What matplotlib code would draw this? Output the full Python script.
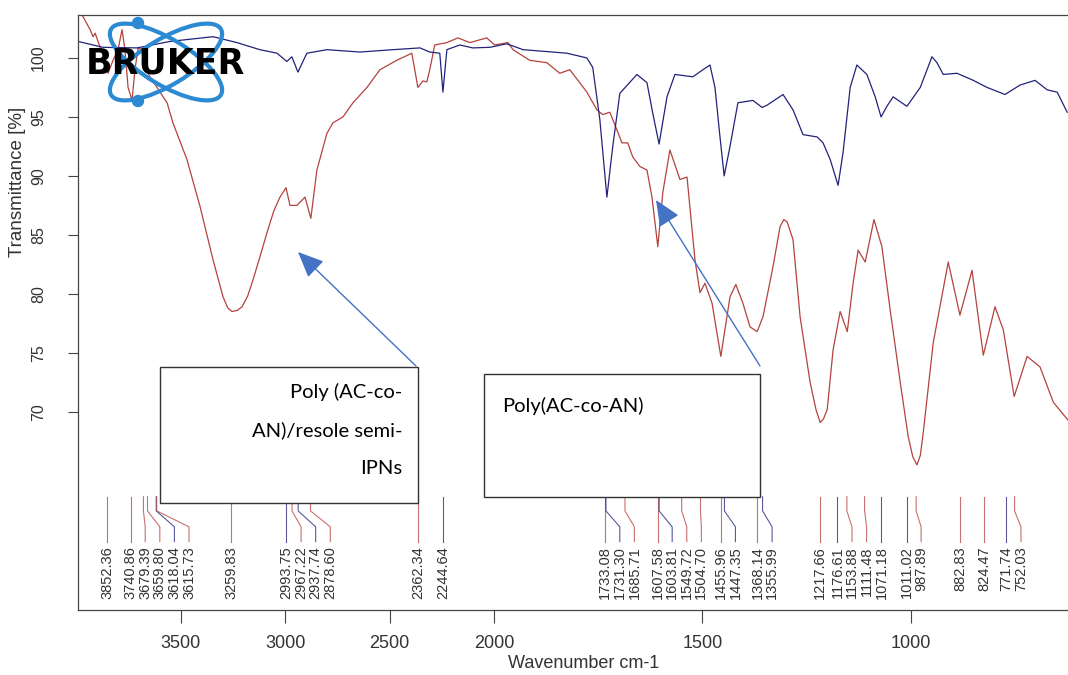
import matplotlib
matplotlib.use("Agg")
import matplotlib.pyplot as plt
from matplotlib.patches import Rectangle, Ellipse, Circle
import numpy as np

# spectra: wavenumber (cm-1), transmittance (%)
blue_wn = [3993, 3873, 3710, 3552, 3346, 3231, 3121, 3039, 2992, 2968, 2939, 2896,
           2800, 2642, 2484, 2354, 2307, 2259, 2244, 2225, 2163, 2101, 2019, 1969,
           1930, 1859, 1825, 1777, 1763, 1746, 1729, 1715, 1698, 1657, 1633, 1619,
           1604, 1585, 1566, 1523, 1499, 1482, 1470, 1458, 1448, 1434, 1415, 1379,
           1357, 1345, 1307, 1283, 1259, 1225, 1211, 1194, 1175, 1163, 1146, 1130,
           1106, 1086, 1072, 1058, 1043, 1010, 978, 950, 938, 923, 890, 851, 818,
           775, 739, 703, 674, 650, 626]
blue_t = [101.4, 100.9, 100.85, 101.4, 101.8, 101.3, 100.7, 100.4, 99.7, 100.1, 98.8, 100.4,
          100.7, 100.5, 100.7, 100.85, 100.5, 100.4, 97.1, 100.7, 101.1, 100.85, 100.9, 101.2,
          100.7, 100.5, 100.4, 100.0, 99.2, 94.8, 88.2, 92.5, 97.0, 98.6, 97.9, 95.3,
          92.7, 96.7, 98.6, 98.4, 99.0, 99.4, 97.5, 93.3, 90.0, 92.5, 96.2, 96.4,
          95.8, 96.0, 96.9, 95.6, 93.5, 93.3, 92.8, 91.4, 89.2, 92.0, 97.5, 99.4,
          98.6, 96.7, 95.0, 95.9, 96.7, 95.9, 97.5, 100.1, 99.6, 98.6, 98.7, 98.1, 97.5,
          96.9, 97.7, 98.1, 97.3, 97.1, 95.4]

red_wn = [3990, 3969, 3935, 3921, 3911, 3887, 3873, 3849, 3825, 3801, 3782, 3768,
          3753, 3734, 3720, 3705, 3686, 3672, 3648, 3614, 3585, 3566, 3538, 3471,
          3408, 3346, 3298, 3275, 3255, 3230, 3207, 3180, 3154, 3120, 3087, 3055, 3025,
          2996, 2977, 2944, 2905,
          2877, 2848, 2800, 2771, 2723, 2675, 2608, 2546, 2465, 2393, 2364, 2340,
          2321, 2307, 2283, 2225, 2172, 2115, 2034, 1998, 1966, 1954, 1914, 1873,
          1842, 1818, 1794, 1777, 1753, 1739, 1722, 1705, 1693, 1679, 1667, 1650,
          1633, 1621, 1607, 1595, 1578, 1554, 1537, 1518, 1506, 1494, 1477, 1456,
          1434, 1420, 1403, 1386, 1369, 1355, 1331, 1314, 1305, 1297, 1283, 1266, 1242,
          1228, 1218, 1210, 1201, 1187, 1170, 1153, 1139, 1127, 1110, 1089, 1070, 1050, 1026,
          1007, 996, 986, 978, 971, 947, 911, 883, 854, 827, 799, 779, 753, 722, 691, 659, 624]
red_t = [104.0, 103.5, 102.4, 101.8, 102.1, 100.9, 100.25, 98.7, 99.8, 100.7, 102.4, 100.7,
         97.5, 96.4, 99.0, 100.85, 100.7, 99.2, 98.4, 97.5, 96.7, 96.2, 94.5, 91.4,
         87.4, 82.9, 79.75, 78.8, 78.5, 78.6, 78.9, 79.8, 81.2, 83.2, 85.2, 87.0, 88.2,
         89.0, 87.5, 87.5, 88.2,
         86.4, 90.5, 93.6, 94.5, 95.0, 96.2, 97.5, 99.0, 99.8, 100.4, 97.5, 98.05,
         97.97, 99.0, 101.1, 101.3, 101.7, 101.3, 101.7, 101.1, 101.3, 100.7, 99.8, 99.6,
         98.7, 99.0, 97.9, 97.1, 95.6, 95.2, 95.4, 93.9, 92.8, 92.8, 91.6, 90.8,
         90.5, 88.2, 84.0, 88.6, 92.2, 89.7, 89.9, 82.9, 80.1, 80.9, 79.2, 74.7,
         79.75, 80.8, 79.2, 77.2, 76.8, 78.05, 82.3, 85.7, 86.3, 86.1, 84.6, 78.05, 72.5,
         70.2, 69.1, 69.4, 70.2, 75.25, 78.5, 76.8, 80.9, 83.7, 82.7, 86.3, 84.0, 78.6, 72.5,
         67.9, 66.2, 65.5, 66.3, 68.2, 75.85, 82.7, 78.2, 82.0, 74.8, 78.9, 76.95, 71.3, 74.7, 73.8, 70.8, 69.3]

red_peaks = [3852.36, 3740.86, 3679.39, 3659.80, 3615.73, 3259.83, 2967.22, 2878.60,
             2362.34, 1733.08, 1685.71, 1607.58, 1549.72, 1504.70, 1455.96, 1368.14,
             1217.66, 1153.88, 1111.48, 987.89, 882.83, 824.47, 752.03]
blue_peaks = [3618.04, 2993.75, 2937.74, 2244.64, 1731.30, 1603.81, 1447.35, 1355.99,
              1176.61, 1071.18, 1011.02, 771.74]

xticks = [3500, 3000, 2500, 2000, 1500, 1000]
yticks = [70, 75, 80, 85, 90, 95, 100]

RED = "#b4423d"
BLUE = "#22227a"


def fwd(x):
    x = np.asarray(x, dtype=float)
    return np.where(x > 2000, 2000 + (x - 2000) * 0.5, x)


def inv(u):
    u = np.asarray(u, dtype=float)
    return np.where(u > 2000, 2000 + (u - 2000) * 2.0, u)


W, H = 1068, 675
fig = plt.figure(figsize=(W / 100, H / 100), dpi=100)
ax = fig.add_axes([78 / W, 65 / H, 1 - 78 / W, (610 - 15) / H])
ax.set_xscale("function", functions=(fwd, inv))
XMAX, XMIN = 3993, 624
ax.set_xlim(XMAX, XMIN)
ax.set_ylim(53.2, 103.64)

ax.plot(red_wn, red_t, color=RED, lw=0.9)
ax.plot(blue_wn, blue_t, color=BLUE, lw=0.9)

# peak labels, spread so they do not overlap
ppu = 990 / (fwd(XMAX) - fwd(XMIN))
peaks = sorted([(p, RED) for p in red_peaks] + [(p, BLUE) for p in blue_peaks],
               key=lambda t: -t[0])
prev = -1e9
for wn, col in peaks:
    px = (fwd(XMAX) - fwd(wn)) * ppu
    lp = max(px, prev + 14.6)
    prev = lp
    lwn = float(inv(fwd(XMAX) - lp / ppu))
    ax.plot([wn, wn, lwn, lwn], [62.8, 61.6, 60.25, 59.0], color=col, lw=0.8, alpha=0.75)
    ax.text(lwn, 58.6, f"{wn:.2f}", rotation=90, ha="center", va="top",
            fontsize=10.5, color="#333333", family="Liberation Sans")

ax.spines["right"].set_visible(False)
for s in ["left", "top", "bottom"]:
    ax.spines[s].set_color("#444444")
    ax.spines[s].set_linewidth(0.9)

ax.set_xticks(xticks)
ax.set_xticklabels([str(t) for t in xticks], family="Liberation Sans",
                   fontsize=13, color="#333333")
ax.xaxis.set_minor_locator(matplotlib.ticker.NullLocator())
ax.tick_params(axis="x", length=9, width=0.8, pad=9, color="#444444")
ax.set_yticks(yticks)
ax.set_yticklabels([str(t) for t in yticks], rotation=90, va="center",
                   family="Liberation Sans", fontsize=11.5, color="#333333")
ax.tick_params(axis="y", length=7, width=0.8, pad=16, color="#444444")

fig.text(584 / W, 1 - 664 / H, "Wavenumber cm-1", ha="center", va="center",
         family="Liberation Sans", fontsize=13, color="#333333")
fig.text(18 / W, 1 - 182 / H, "Transmittance [%]", ha="center", va="center", rotation=90,
         family="Liberation Sans", fontsize=13.5, color="#333333")

# overlay in pixel coordinates for logo, boxes and arrows
ov = fig.add_axes([0, 0, 1, 1])
ov.set_xlim(0, W)
ov.set_ylim(H, 0)
ov.axis("off")

LOGO = "#2b8ad2"
ov.add_patch(Ellipse((166, 62), 128, 46, angle=31, fill=False, ec=LOGO, lw=3))
ov.add_patch(Ellipse((166, 62), 128, 46, angle=-31, fill=False, ec=LOGO, lw=3))
ov.add_patch(Circle((138, 23), 5.5, color=LOGO))
ov.add_patch(Circle((138, 101), 5.5, color=LOGO))
ov.text(165, 64, "BRUKER", ha="center", va="center", fontsize=25, fontweight="heavy",
        family="DejaVu Sans", color="black")

ov.add_patch(Rectangle((160, 367), 258, 136, fc="white", ec="#333333", lw=1))
ov.add_patch(Rectangle((484, 374), 276, 123, fc="white", ec="#333333", lw=1))
for i, line in enumerate(["Poly (AC-co-", "AN)/resole semi-", "IPNs"]):
    ov.text(402, 392 + 38 * i, line, ha="right", va="center", fontsize=14.5,
            family="Lato", color="black")
ov.text(502, 406, "Poly(AC-co-AN)", ha="left", va="center", fontsize=14.5,
        family="Lato", color="black")

arrow = dict(arrowstyle="-|>,head_length=0.8,head_width=0.35", color="#4472c4", lw=1,
             mutation_scale=20, shrinkA=0, shrinkB=0)
ov.annotate("", xy=(298, 252), xytext=(416, 366), arrowprops=arrow)
ov.annotate("", xy=(656, 200), xytext=(760, 366), arrowprops=arrow)

fig.savefig("out.png", dpi=100)
